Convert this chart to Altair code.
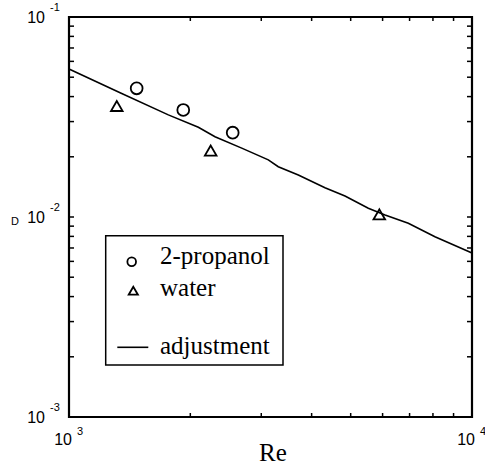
import altair as alt
import pandas as pd

# Drag coefficient measurements
propanol_re = [1472, 1921, 2548]
propanol_cd = [0.0440, 0.0343, 0.0264]
water_re = [1314, 2247, 5888]
water_cd = [0.0359, 0.0215, 0.0103]

fit_re = [1000, 1339, 1764, 2094, 2303, 2683, 3123, 3306, 3707, 4317,
          4840, 5530, 6085, 6950, 8092, 10000]
fit_cd = [0.0550, 0.0418, 0.0324, 0.0281, 0.0252, 0.0221, 0.0193, 0.01784,
          0.01622, 0.0140, 0.01274, 0.01105, 0.01023, 0.0093, 0.00796, 0.00661]

# Axis ticks and labels
x_ticks = [2000, 3000, 4000, 5000, 6000, 7000, 8000, 9000]
y_ticks = [0.002, 0.003, 0.004, 0.005, 0.006, 0.007, 0.008, 0.009, 0.01,
           0.02, 0.03, 0.04, 0.05, 0.06, 0.07, 0.08, 0.09]
x_decades = [1000, 10000]
x_exponents = ["3", "4"]
y_decades = [0.1, 0.01, 0.001]
y_exponents = ["-1", "-2", "-3"]
x_title = "Re"
y_title = "D"
legend_labels = ["2-propanol", "water", "adjustment"]

W, H = 403, 400
SANS = "Liberation Sans"
SERIF = "Liberation Serif"

xs = alt.Scale(type="log", domain=[1000, 10000], nice=False)
ys = alt.Scale(type="log", domain=[0.001, 0.1], nice=False)


def X():
    return alt.X("Re:Q", scale=xs, axis=None)


def Y():
    return alt.Y("CD:Q", scale=ys, axis=None)


fit_df = pd.DataFrame({"Re": fit_re, "CD": fit_cd})
prop_df = pd.DataFrame({"Re": propanol_re, "CD": propanol_cd})
water_df = pd.DataFrame({"Re": water_re, "CD": water_cd})
xt_df = pd.DataFrame({"Re": x_ticks})
yt_df = pd.DataFrame({"CD": y_ticks})
xdec_df = pd.DataFrame({"Re": x_decades, "base": ["10"] * 2, "exp": x_exponents})
ydec_df = pd.DataFrame({"CD": y_decades, "base": ["10"] * 3, "exp": y_exponents})
one = pd.DataFrame({"k": [0]})

fit = alt.Chart(fit_df).mark_line(color="black", strokeWidth=1.6).encode(x=X(), y=Y())
prop = alt.Chart(prop_df).mark_point(
    shape="circle", size=140, filled=False, color="black", strokeWidth=1.8, opacity=1
).encode(x=X(), y=Y())
water = alt.Chart(water_df).mark_point(
    shape="triangle-up", size=135, filled=False, color="black", strokeWidth=1.8, opacity=1
).encode(x=X(), y=Y())

# inward ticks on all four sides
tick_style = dict(color="black", strokeWidth=1.5)
xt_bottom = alt.Chart(xt_df).mark_rule(**tick_style).encode(
    x=X(), y=alt.value(H), y2=alt.value(H - 4))
xt_top = alt.Chart(xt_df).mark_rule(**tick_style).encode(
    x=X(), y=alt.value(0), y2=alt.value(4))
yt_left = alt.Chart(yt_df).mark_rule(**tick_style).encode(
    y=Y(), x=alt.value(0), x2=alt.value(5))
yt_right = alt.Chart(yt_df).mark_rule(**tick_style).encode(
    y=Y(), x=alt.value(W), x2=alt.value(W - 5))

# plot frame
frame = alt.Chart(one).mark_rect(fill=None, stroke="black", strokeWidth=2.2).encode(
    x=alt.value(0), x2=alt.value(W), y=alt.value(0), y2=alt.value(H))

# decade labels written as 10 with a raised exponent
ylab = alt.Chart(ydec_df).mark_text(
    font=SANS, fontSize=16, align="right", baseline="alphabetic", dy=6, color="black"
).encode(y=Y(), x=alt.value(-24), text="base:N")
ylab_exp = alt.Chart(ydec_df).mark_text(
    font=SANS, fontSize=11, align="left", baseline="alphabetic", dy=-6, color="black"
).encode(y=Y(), x=alt.value(-19), text="exp:N")
xlab = alt.Chart(xdec_df).mark_text(
    font=SANS, fontSize=16, align="right", baseline="alphabetic", dx=3, dy=28, color="black"
).encode(x=X(), y=alt.value(H), text="base:N")
xlab_exp = alt.Chart(xdec_df).mark_text(
    font=SANS, fontSize=11, align="left", baseline="alphabetic", dx=8, dy=18, color="black"
).encode(x=X(), y=alt.value(H), text="exp:N")

xtitle = alt.Chart(one).mark_text(
    font=SERIF, fontSize=25, align="center", baseline="alphabetic", color="black"
).encode(x=alt.value(204), y=alt.value(444), text=alt.value(x_title))
ytitle = alt.Chart(pd.DataFrame({"CD": [0.01]})).mark_text(
    font=SANS, fontSize=11, align="left", baseline="alphabetic", dy=8, color="black"
).encode(y=Y(), x=alt.value(-58), text=alt.value(y_title))

# legend box
lg_box = alt.Chart(one).mark_rect(fill="white", stroke="black", strokeWidth=1.5).encode(
    x=alt.value(36.7), x2=alt.value(214), y=alt.value(218.7), y2=alt.value(348))
lg_circle = alt.Chart(one).mark_point(
    shape="circle", size=75, filled=False, color="black", strokeWidth=1.8, opacity=1
).encode(x=alt.value(62.7), y=alt.value(244.7))
lg_tri = alt.Chart(one).mark_point(
    shape="triangle-up", size=85, filled=False, color="black", strokeWidth=1.8, opacity=1
).encode(x=alt.value(64.3), y=alt.value(273.7))
lg_line = alt.Chart(one).mark_rule(color="black", strokeWidth=1.6).encode(
    x=alt.value(48.3), x2=alt.value(79.3), y=alt.value(330.3))
lg_text_style = dict(font=SERIF, fontSize=25, align="left", baseline="alphabetic", color="black")
lg_t1 = alt.Chart(one).mark_text(**lg_text_style).encode(
    x=alt.value(91), y=alt.value(247.3), text=alt.value(legend_labels[0]))
lg_t2 = alt.Chart(one).mark_text(**lg_text_style).encode(
    x=alt.value(91), y=alt.value(279), text=alt.value(legend_labels[1]))
lg_t3 = alt.Chart(one).mark_text(**lg_text_style).encode(
    x=alt.value(91), y=alt.value(337), text=alt.value(legend_labels[2]))

chart = alt.layer(
    fit, prop, water,
    xt_bottom, xt_top, yt_left, yt_right, frame,
    ylab, ylab_exp, xlab, xlab_exp, xtitle, ytitle,
    lg_box, lg_circle, lg_tri, lg_line, lg_t1, lg_t2, lg_t3,
).properties(
    width=W, height=H,
    autosize=alt.AutoSizeParams(type="none"),
    padding={"left": 69, "top": 17, "right": 13, "bottom": 49},
).configure_view(stroke=None)

chart.save("out.html", embed_options={"renderer": "svg", "actions": False})
